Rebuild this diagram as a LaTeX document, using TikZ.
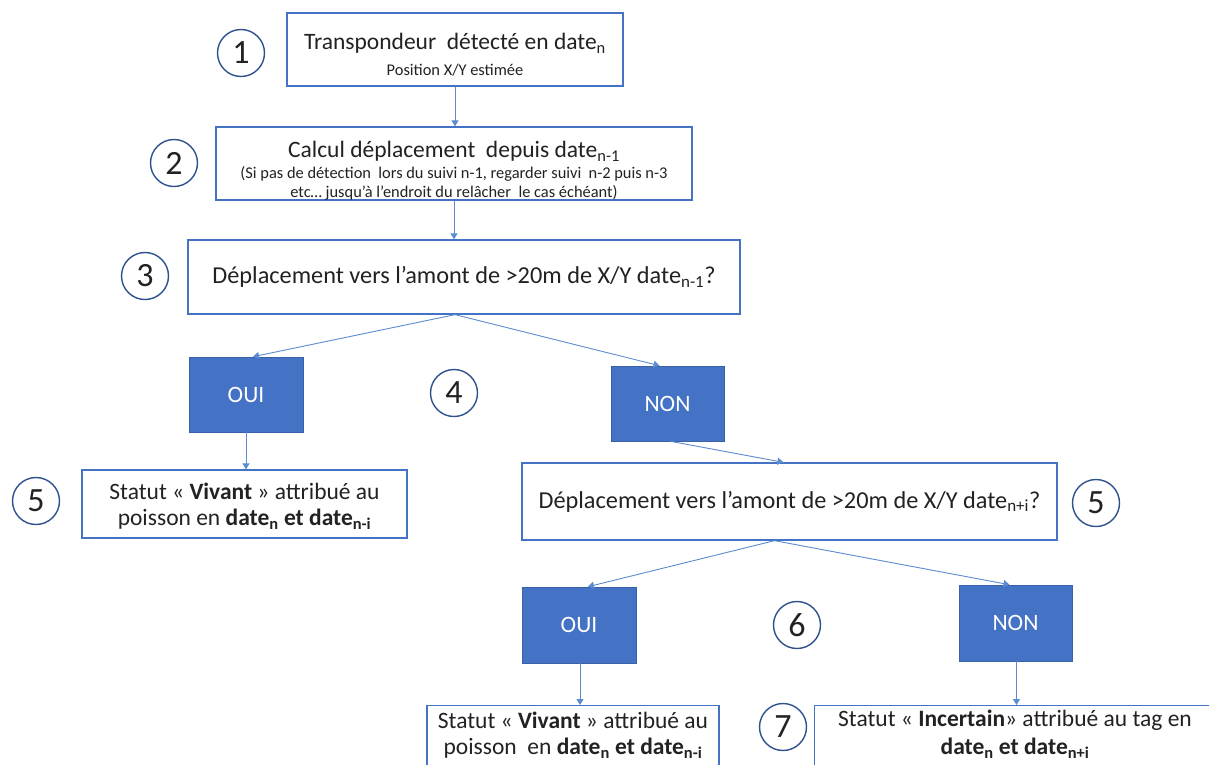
\documentclass[tikz,border=0pt]{standalone}
\usepackage{fontspec}
\setmainfont{Carlito}
\usetikzlibrary{arrows.meta}
\definecolor{bl}{HTML}{4472C4}
\definecolor{cb}{HTML}{2F528F}
\definecolor{ln}{HTML}{5B8BD0}
\definecolor{tx}{HTML}{222222}
\begin{document}
\begin{tikzpicture}[x=1pt,y=-1pt,
 box/.style={draw=bl, line width=1.3pt, fill=white, inner sep=0},
 yn/.style={fill=bl, draw=bl!85!black, line width=0.6pt, text=white, inner sep=0, font=\fontsize{23.5}{26}\selectfont},
 num/.style={circle, draw=cb, line width=1.4pt, minimum size=47pt, inner sep=0, font=\fontsize{34}{36}\selectfont, text=tx},
 big/.style={font=\fontsize{23.5}{26}\selectfont, text=tx, inner sep=0},
 bigq/.style={font=\fontsize{24.3}{27}\selectfont, text=tx, inner sep=0},
 small/.style={font=\fontsize{16.4}{18}\selectfont, text=tx, inner sep=0},
 arr/.style={draw=ln, line width=0.9pt, -{Triangle[width=7pt,length=6pt]}}
]
\useasboundingbox (0,0) rectangle (1209,764);
\clip (0,0) rectangle (1209,764);
\fill[white] (0,0) rectangle (1209,764);

% boxes
\node[box, minimum width=336pt, minimum height=73pt] (b1) at (455,49.5) {};
\node[big] (t1) at (455,43) {Transpondeur \ détecté en date\textsubscript{n}};
\node[small] (t1b) at (455,70) {Position X/Y estimée};

\node[box, minimum width=476pt, minimum height=73pt] (b2) at (454,163.5) {};
\node[big] (t2) at (454,151) {Calcul déplacement \ depuis date\textsubscript{n-1}};
\node[small] (t2b) at (454,174) {(Si pas de détection \ lors du suivi n-1, regarder suivi \ n-2 puis n-3};
\node[small] (t2c) at (454,193) {etc… jusqu’à l’endroit du relâcher \ le cas échéant)};

\node[box, minimum width=552pt, minimum height=74pt, bigq, inner sep=0] (b3) at (464,277) {Déplacement vers l’amont de >20m de X/Y date\textsubscript{n-1}?};

\node[yn, minimum width=114pt, minimum height=75pt] (oui1) at (246,394.5) {OUI};
\node[yn, minimum width=113pt, minimum height=75pt] (non1) at (667.5,403.5) {NON};

\node[box, minimum width=325pt, minimum height=68pt] (b5) at (244.5,504) {};
\node[big] (t5a) at (244.5,491) {Statut « \textbf{Vivant} » attribué au};
\node[big] (t5b) at (244.5,519) {poisson en \textbf{date\textsubscript{n} et date\textsubscript{n-i}}};

\node[box, minimum width=535pt, minimum height=77pt, bigq] (mid) at (789.5,501.5) {Déplacement vers l’amont de >20m de X/Y date\textsubscript{n+i}?};

\node[yn, minimum width=114pt, minimum height=76pt] (oui2) at (579,625) {OUI};
\node[yn, minimum width=113pt, minimum height=76pt] (non2) at (1015.5,623) {NON};

\node[box, minimum width=292pt, minimum height=90pt, anchor=north] (bl) at (573,705) {};
\node[big] (tbla) at (573,720) {Statut « \textbf{Vivant} » attribué au};
\node[big] (tblb) at (573,748) {poisson \ en \textbf{date\textsubscript{n} et date\textsubscript{n-i}}};

\node[box, minimum width=420pt, minimum height=90pt, anchor=north west] (br) at (814,705) {};
\node[big] (tbra) at (1015,720) {Statut « \textbf{Incertain}» attribué au tag en};
\node[big] (tbrb) at (1015,748) {\textbf{date\textsubscript{n} et date\textsubscript{n+i}}};

% numbers
\node[num] (n1) at (241,53) {1};
\node[num] (n2) at (174,163) {2};
\node[num] (n3) at (145,276) {3};
\node[num] (n4) at (454,393) {4};
\node[num] (n5a) at (36,501) {5};
\node[num] (n5b) at (1096,503) {5};
\node[num] (n6) at (797,625) {6};
\node[num] (n7) at (783,727) {7};

% connectors
\draw[arr] (b1.south) -- (b1.south |- b2.north);
\draw[arr] (b2.south) -- (b2.south |- b3.north);
\coordinate (s3) at ([xshift=-9pt]b3.south);
\draw[arr] (s3) -- ([xshift=7pt]oui1.north);
\draw[arr] (s3) -- ([xshift=-8pt]non1.north);
\draw[arr] ([xshift=3pt]non1.south) -- ([xshift=-6pt]mid.north);
\coordinate (sm) at ([xshift=-15pt]mid.south);
\draw[arr] (sm) -- ([xshift=9pt]oui2.north);
\draw[arr] (sm) -- ([xshift=-6pt]non2.north);
\draw[arr] (oui1.south) -- (oui1.south |- b5.north);
\draw[arr] ([xshift=1pt]oui2.south) -- ([xshift=1pt]oui2.south |- bl.north);
\draw[arr] ([xshift=1pt]non2.south) -- ([xshift=1pt]non2.south |- br.north);
\end{tikzpicture}
\end{document}
